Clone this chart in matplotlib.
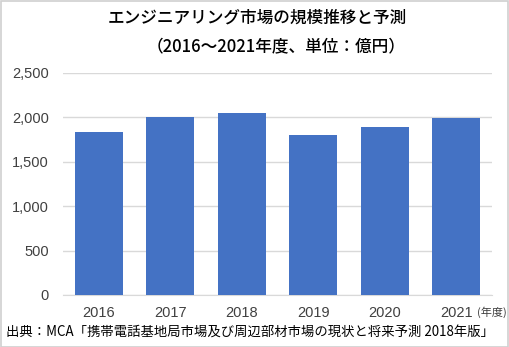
import matplotlib
matplotlib.use("Agg")
import matplotlib.pyplot as plt
from matplotlib.patches import Rectangle

plt.rcParams['font.family'] = ['Noto Sans CJK JP', 'DejaVu Sans']

years = ["2016", "2017", "2018", "2019", "2020", "2021"]
values = [1830, 2010, 2045, 1800, 1890, 1990]
yticks = [0, 500, 1000, 1500, 2000, 2500]
ytick_labels = ["0", "500", "1,000", "1,500", "2,000", "2,500"]

W, H = 509, 347
fig = plt.figure(figsize=(W / 100, H / 100), dpi=100)
fig.patch.set_facecolor('white')
fig.patches.append(Rectangle((0.5 / W, 0.5 / H), 1 - 1.5 / W, 1 - 1.5 / H, transform=fig.transFigure,
                             fill=False, edgecolor='#d0d0d0', linewidth=1.2))

ax = fig.add_axes([63 / W, 1 - 295 / H, (492 - 63) / W, (295 - 73) / H])
x = list(range(len(years)))
ax.bar(x, values, width=0.67, color='#4472C4', zorder=3)
ax.set_xlim(-0.5, len(years) - 0.5)
ax.set_ylim(0, 2500)
ax.set_yticks(yticks)
ax.set_yticklabels(ytick_labels, fontsize=10.5, color='#404040', family=['Liberation Sans', 'DejaVu Sans'])
ax.set_xticks(x)
ax.set_xticklabels(years, fontsize=10.5, color='#404040', family=['Liberation Sans', 'DejaVu Sans'])
ax.tick_params(axis='both', length=0, pad=8)
ax.tick_params(axis='y', pad=10)
ax.grid(axis='y', color='#d9d9d9', linewidth=1, zorder=0)
for s in ['top', 'right', 'left']:
    ax.spines[s].set_visible(False)
ax.spines['bottom'].set_color('#d9d9d9')

fig.text(257 / W, 1 - 18 / H, "エンジニアリング市場の規模推移と予測", ha='center', va='center',
         fontsize=12, color='#000000', fontweight='medium')
fig.text(405 / W, 1 - 47 / H, "（2016～2021年度、単位：億円）", ha='right', va='center',
         fontsize=12, color='#000000', fontweight='medium')
fig.text(477 / W, 1 - 312 / H, "(年度)", ha='left', va='center', fontsize=8, color='#404040')
fig.text(6 / W, 1 - 332 / H, "出典：MCA「携帯電話基地局市場及び周辺部材市場の現状と将来予測 2018年版」",
         ha='left', va='center', fontsize=9.6, color='#000000')

fig.savefig("out.png", dpi=100)
